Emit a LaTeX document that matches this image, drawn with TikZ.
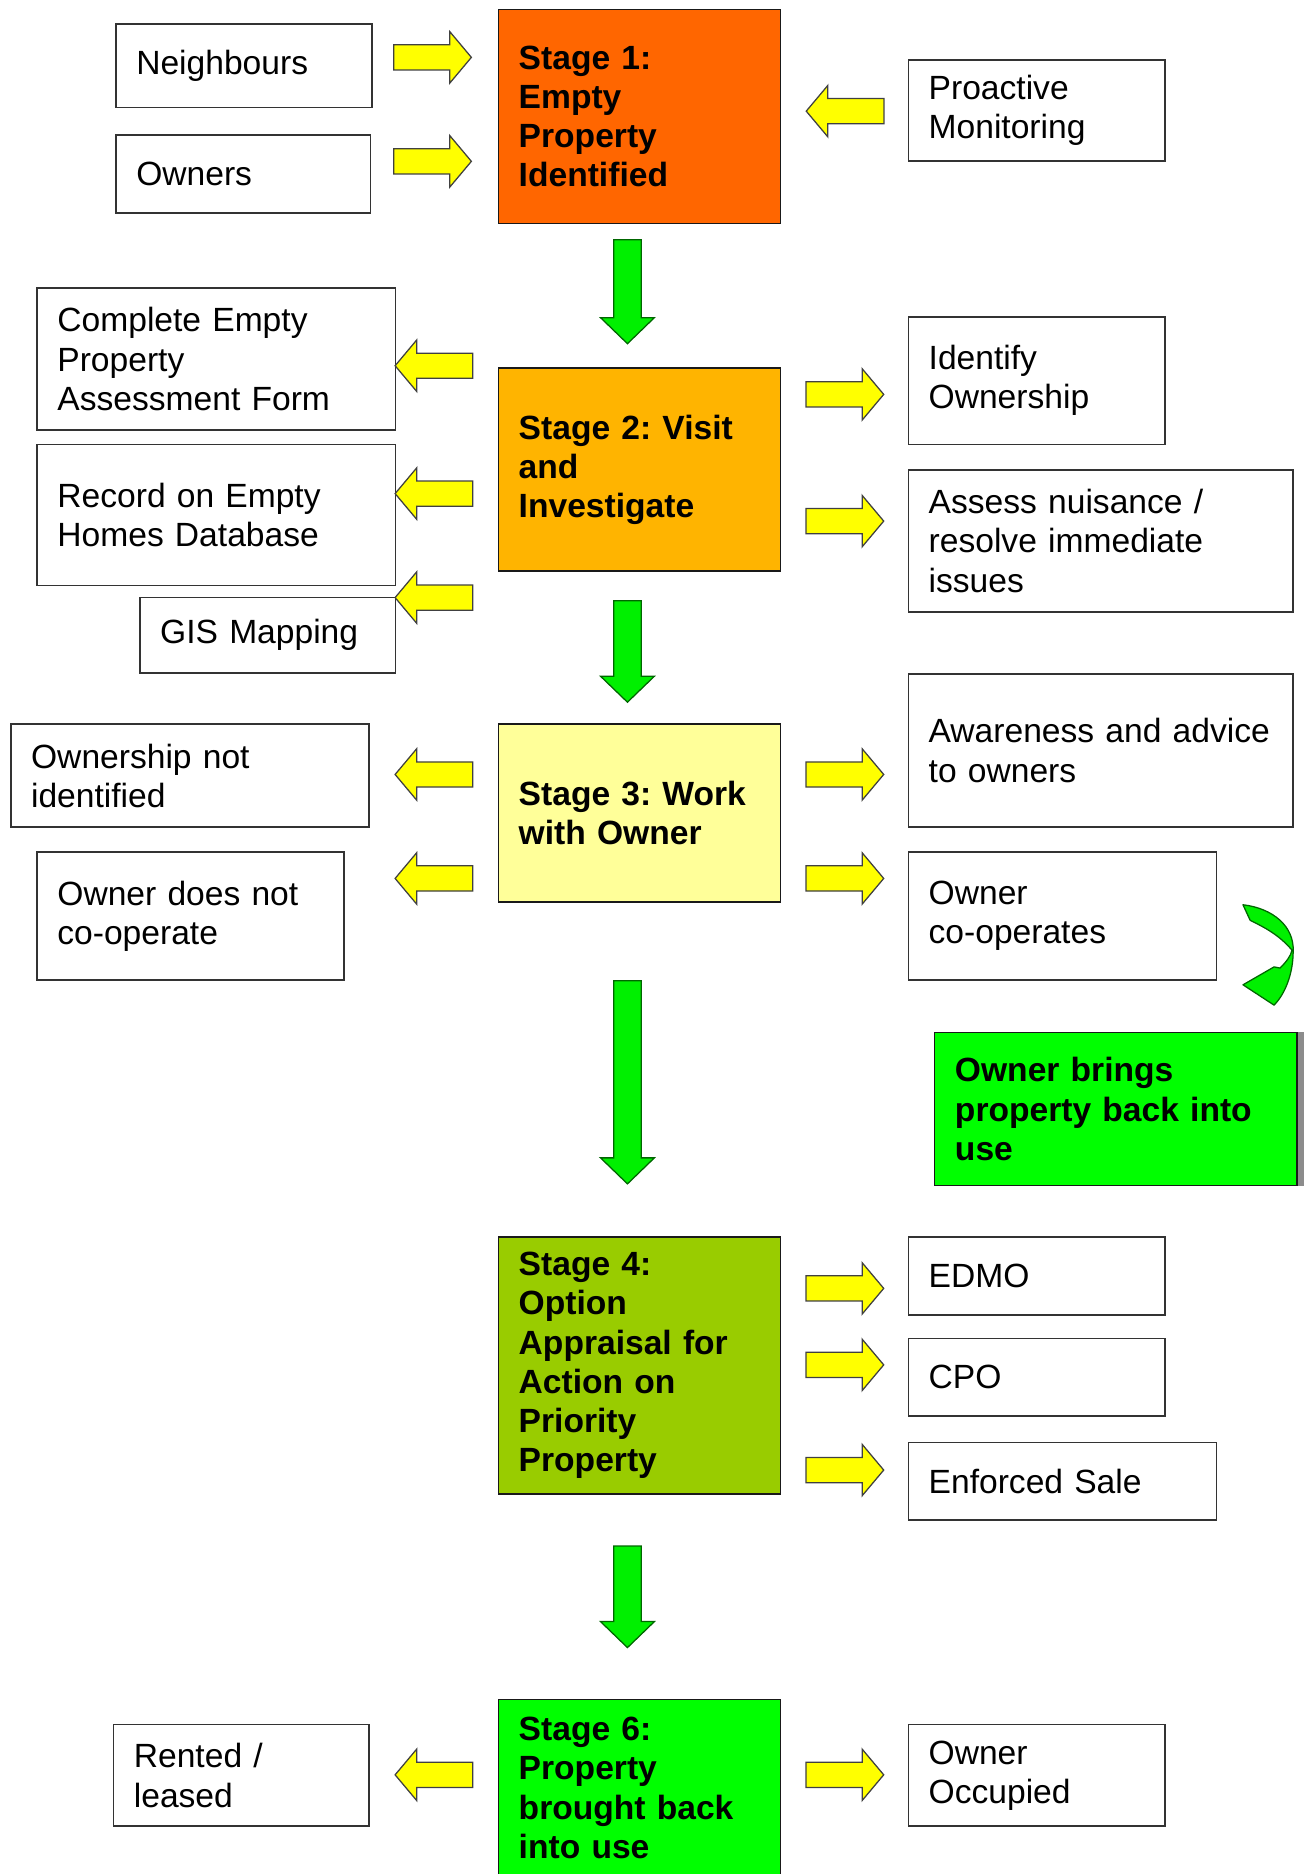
\documentclass[tikz,border=0pt]{standalone}
\usepackage{fontspec}
\setmainfont{Liberation Sans}
\usetikzlibrary{shapes.arrows}

\definecolor{stageorange}{HTML}{FF6600}
\definecolor{stagegold}{HTML}{FFB400}
\definecolor{stagecream}{HTML}{FFFF99}
\definecolor{stageolive}{HTML}{99CC00}
\definecolor{stagegreen}{HTML}{00FF00}
\definecolor{arrowyellow}{HTML}{FFFF00}
\definecolor{arrowgreen}{HTML}{00F000}

\newcommand{\boxfont}{\fontsize{16}{18.7}\selectfont\frenchspacing}

\tikzset{
  infobox/.style={draw=black!80, line width=0.8pt, fill=white, align=left,
    inner xsep=0.34cm, inner ysep=0pt},
  stagebox/.style={infobox, draw=black!90, text width=4.04cm,
    font=\boxfont\bfseries},
  yarrow/.style={single arrow, draw=black!75, line width=0.6pt,
    fill=arrowyellow, minimum height=1.3cm, single arrow head extend=0.22cm,
    single arrow tip angle=100, inner xsep=0pt, inner ysep=0.2cm},
  yright/.style={yarrow},
  yleft/.style={yarrow, shape border rotate=180},
  gdown/.style={single arrow, draw=black!60!green, line width=0.6pt,
    fill=arrowgreen, single arrow head extend=0.22cm,
    single arrow tip angle=92, inner xsep=0.22cm, inner ysep=0pt,
    shape border rotate=270},
}

\begin{document}
\begin{tikzpicture}[x=0.02cm, y=-0.02cm, font=\boxfont]
    \useasboundingbox (0,0) rectangle (1092,1568);
    \clip (0,0) rectangle (1092,1568);

    % Stage 1
    \node[stagebox, fill=stageorange, minimum height=3.58cm] (st1) at (535,97.5)
        {Stage 1:\\Empty\\Property\\Identified};
    \node[infobox, text width=3.6cm, minimum height=1.4cm] (neigh) at (204,55) {Neighbours};
    \node[infobox, text width=3.58cm, minimum height=1.3cm] (owners) at (203.5,145.5) {Owners};
    \node[infobox, text width=3.62cm, minimum height=1.7cm] (proact) at (867.5,92.5)
        {Proactive\\Monitoring};

    \node[yright] (a11) at (357.5,48) {};
    \node[yright] (a12) at (357.5,135) {};
    \node[yleft] (a13) at (711.5,93) {};

    % Stage 2
    \node[stagebox, fill=stagegold, minimum height=3.4cm] (st2) at (535,393)
        {Stage 2: Visit\\and\\Investigate};
    \node[infobox, text width=5.32cm, minimum height=2.38cm] (form) at (181,300.5)
        {Complete Empty\\Property\\Assessment Form};
    \node[infobox, text width=5.32cm, minimum height=2.36cm] (dbase) at (181,431)
        {Record on Empty\\Homes Database};
    \node[infobox, text width=3.6cm, minimum height=1.26cm] (gis) at (224,531.5) {GIS Mapping};
    \node[infobox, text width=3.62cm, minimum height=2.14cm] (ident) at (867.5,318.5)
        {Identify\\Ownership};
    \node[infobox, text width=5.76cm, minimum height=2.38cm] (assess) at (921,452.5)
        {Assess nuisance /\\resolve immediate\\issues};

    \node[yleft] (a21) at (367.5,306) {};
    \node[yleft] (a22) at (367.5,413) {};
    \node[yleft] (a23) at (367.5,500) {};
    \node[yright] (a24) at (702.5,330) {};
    \node[yright] (a25) at (702.5,436) {};

    % Stage 3
    \node[stagebox, fill=stagecream, minimum height=2.98cm] (st3) at (535,680.5)
        {Stage 3: Work\\with Owner};
    \node[infobox, text width=5.32cm, minimum height=1.72cm] (notid) at (159,649)
        {Ownership not\\identified};
    \node[infobox, text width=4.46cm, minimum height=2.14cm] (nocoop) at (159.5,766.5)
        {Owner does not\\co-operate};
    \node[infobox, text width=5.76cm, minimum height=2.56cm] (advice) at (921,628)
        {Awareness and advice\\to owners};
    \node[infobox, text width=4.48cm, minimum height=2.14cm] (coop) at (889,766.5)
        {Owner\\co-operates};
    \node[infobox, fill=stagegreen, draw=black!90, text width=5.38cm, minimum height=2.56cm,
        font=\boxfont\bfseries] (brings) at (933.5,928)
        {Owner brings\\property back into\\use};
    \fill[black!45] (brings.north east) rectangle ([xshift=0.1cm]brings.south east);

    \node[yleft] (a31) at (367.5,648) {};
    \node[yleft] (a32) at (367.5,735) {};
    \node[yright] (a33) at (702.5,648) {};
    \node[yright] (a34) at (702.5,735) {};

    % curved arrow from co-operates down to brings
    \filldraw[draw=black!60!green, line width=0.6pt, fill=arrowgreen, line join=round]
        (1040,757) .. controls (1065,760) and (1083,775) .. (1082,796)
        .. controls (1082,815) and (1075,832) .. (1066,841)
        -- (1040,824) -- (1066,809) -- (1071,810)
        .. controls (1076,805) and (1080,800) .. (1081,795)
        .. controls (1070,782) and (1058,776) .. (1046,770) -- cycle;

    % Stage 4
    \node[stagebox, fill=stageolive, minimum height=4.3cm] (st4) at (535,1142.5)
        {Stage 4:\\Option\\Appraisal for\\Action on\\Priority\\Property};
    \node[infobox, text width=3.62cm, minimum height=1.3cm] (edmo) at (867.5,1067.5) {EDMO};
    \node[infobox, text width=3.62cm, minimum height=1.3cm] (cpo) at (867.5,1152.5) {CPO};
    \node[infobox, text width=4.48cm, minimum height=1.3cm] (sale) at (889,1239.5) {Enforced Sale};

    \node[yright] (a41) at (702.5,1078) {};
    \node[yright] (a42) at (702.5,1142) {};
    \node[yright] (a43) at (702.5,1230) {};

    % Stage 6
    \node[stagebox, fill=stagegreen, minimum height=2.96cm] (st6) at (535,1496)
        {Stage 6:\\Property\\brought back\\into use};
    \node[infobox, text width=3.6cm, minimum height=1.7cm] (rented) at (202,1485.5)
        {Rented /\\leased};
    \node[infobox, text width=3.62cm, minimum height=1.7cm] (occup) at (867.5,1485.5)
        {Owner\\Occupied};

    \node[yleft] (a61) at (367.5,1485) {};
    \node[yright] (a62) at (702.5,1485) {};

    % Flow down the stages
    \node[gdown, minimum height=1.74cm] (g12) at (525,238.5) {};
    \node[gdown, minimum height=1.7cm] (g23) at (525,539.5) {};
    \node[gdown, minimum height=3.4cm] (g34) at (525,900) {};
    \node[gdown, minimum height=1.7cm] (g46) at (525,1330.5) {};

\end{tikzpicture}
\end{document}
